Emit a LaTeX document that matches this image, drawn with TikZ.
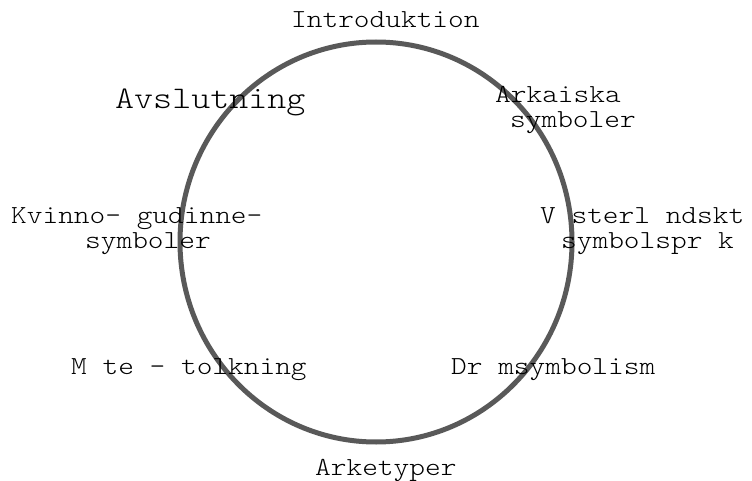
\documentclass[tikz,border=0pt]{standalone}
\usepackage{fontspec}
\newfontfamily\lblfont{lmmonolt10-regular.otf}[FakeStretch=1.15]
\usepackage{tikz}

\begin{document}
\begin{tikzpicture}[x=1pt, y=-1pt, inner sep=0pt,]% 1 unit = 1 px of the sketch
\useasboundingbox (0,0) rectangle (752,481);
\tikzstyle{every node}=[font=\lblfont\fontsize{26pt}{25pt}\selectfont, anchor=base west, align=left]
\tikzstyle{big}=[font=\lblfont\fontsize{31.5pt}{30pt}\selectfont]
\tikzstyle{ring}=[line width=5pt, black!65]

% the cycle
\draw[ring] (376,242) ellipse [x radius=196pt, y radius=200pt];

% base of a two-line node = base of its last line
\node (intro) at (291,28) {Introduktion};
\node (arkaisk) at (495,128) {Arkaiska\\\hspace*{15pt}symboler};
\node (vaster) at (540,248) {V sterl ndskt\\\hspace*{21pt}symbolspr k};
\node (drom) at (451,374) {Dr msymbolism};
\node (arke) at (315,475) {Arketyper};
\node (mote) at (71,374) {M te - tolkning};
\node (kvinno) at (11,248) {Kvinno- gudinne-\\\hspace*{74pt}symboler};
\node[big] (avsl) at (115,109) {Avslutning};

%\draw (intro) -- (arke);
\end{tikzpicture}
\end{document}
